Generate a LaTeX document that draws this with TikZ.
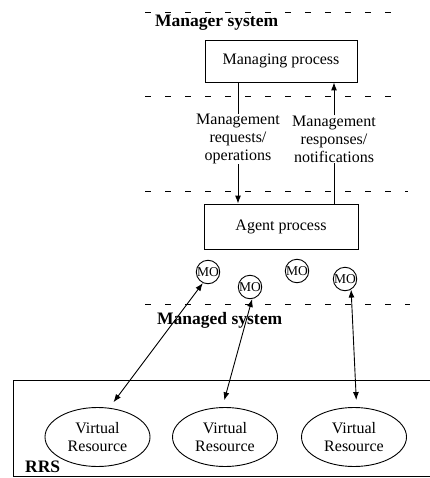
\documentclass[tikz,border=0pt]{standalone}
\usepackage{fontspec}
\setmainfont{Liberation Serif}
\usetikzlibrary{arrows.meta,shapes.geometric}
\begin{document}
\begin{tikzpicture}[x=1pt,y=-1pt,
  box/.style={draw,line width=0.9pt,inner sep=0pt,font=\fontsize{16}{18}\selectfont},
  lbl/.style={align=center,inner sep=0pt,font=\fontsize{16}{18}\selectfont},
  mo/.style={circle,draw,line width=0.9pt,minimum size=23pt,inner sep=0pt,font=\fontsize{13.5}{14}\selectfont},
  vr/.style={ellipse,draw,line width=0.9pt,minimum width=105pt,minimum height=59pt,inner sep=0pt,align=center,font=\fontsize{16}{18}\selectfont},
  sysname/.style={inner sep=0pt,anchor=base west,font=\fontsize{17.5}{20}\selectfont\bfseries},
  bound/.style={line width=0.7pt,dash pattern=on 6pt off 14pt},
  link/.style={line width=0.9pt},
  tip/.style={-{Latex[length=8pt,width=6pt]}},
  dtip/.style={{Latex[length=8pt,width=6pt]}-{Latex[length=8pt,width=6pt]}},
]
\useasboundingbox (0,0) rectangle (429,478);

% system boundaries
\draw[bound] (145,12) -- (405,12);
\draw[bound] (145,96) -- (405,96);
\draw[bound] (145,191) -- (408,191);
\draw[bound] (145,304) -- (410,304);

\node[sysname] (mgrsys) at (155,27) {Manager system};
\node[sysname] (mgdsys) at (157,324) {Managed system};

% manager and agent processes
\node[box,minimum width=152pt,minimum height=42pt] (mp) at (281,61) {Managing process};
\node[box,minimum width=154pt,minimum height=45pt] (agent) at (281,226.5) {Agent process};

\node[lbl] (reqlbl) at (238,139) {Management\\requests/\\operations};
\node[lbl] (resplbl) at (334,139) {Management\\responses/\\notifications};

\draw[link] (mp.south -| reqlbl) -- (reqlbl.north);
\draw[link,tip] (reqlbl.south) -- (agent.north -| reqlbl);
\draw[link] (agent.north -| resplbl) -- (resplbl.south);
\draw[link,tip] (resplbl.north) -- (mp.south -| resplbl);

% managed objects
\node[mo] (mo1) at (208,272) {MO};
\node[mo] (mo2) at (250,287) {MO};
\node[mo] (mo3) at (297,271) {MO};
\node[mo] (mo4) at (345,279) {MO};

% real resource system
\draw[line width=0.9pt] (432,380) -- (13,380) -- (13,476.5) -- (432,476.5);
\node[sysname] (rrs) at (25,472) {RRS};

\node[vr] (vr1) at (97.5,437) {Virtual\\Resource};
\node[vr] (vr2) at (225,437) {Virtual\\Resource};
\node[vr] (vr3) at (354,437) {Virtual\\Resource};

\draw[link,dtip,shorten >=7pt] (mo1.245) -- (vr1.68);
\draw[link,dtip,shorten >=7pt] (mo2.280) -- (vr2.95);
\draw[link,dtip,shorten >=7pt] (mo4.300) -- (vr3.85);
\end{tikzpicture}
\end{document}
